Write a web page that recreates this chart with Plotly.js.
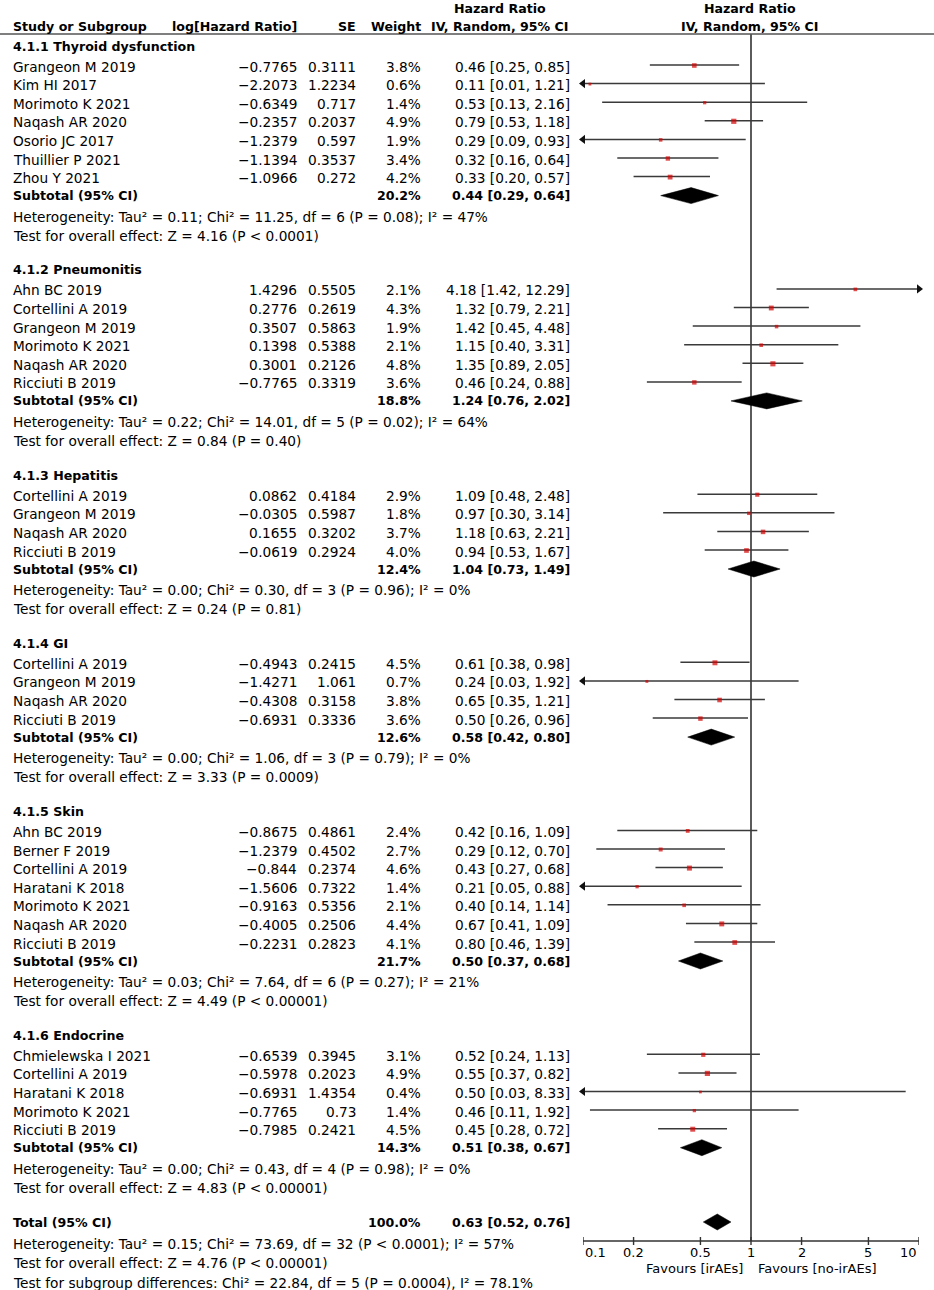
<!DOCTYPE html>
<html>
<head>
<meta charset="utf-8">
<script src="https://cdn.plot.ly/plotly-3.0.1.min.js"></script>
<style>html,body{margin:0;padding:0;background:#fff;}#chart{width:934px;height:1290px;}</style>
</head>
<body>
<div id="chart"></div>
<script>
// ---------- DATA ----------
const groupNames = ["4.1.1 Thyroid dysfunction", "4.1.2 Pneumonitis", "4.1.3 Hepatitis", "4.1.4 GI", "4.1.5 Skin", "4.1.6 Endocrine"];

const studyGroup = [0,0,0,0,0,0,0, 1,1,1,1,1,1, 2,2,2,2, 3,3,3,3, 4,4,4,4,4,4,4, 5,5,5,5,5];
const studyNames = [
  "Grangeon M 2019","Kim HI 2017","Morimoto K 2021","Naqash AR 2020","Osorio JC 2017","Thuillier P 2021","Zhou Y 2021",
  "Ahn BC 2019","Cortellini A 2019","Grangeon M 2019","Morimoto K 2021","Naqash AR 2020","Ricciuti B 2019",
  "Cortellini A 2019","Grangeon M 2019","Naqash AR 2020","Ricciuti B 2019",
  "Cortellini A 2019","Grangeon M 2019","Naqash AR 2020","Ricciuti B 2019",
  "Ahn BC 2019","Berner F 2019","Cortellini A 2019","Haratani K 2018","Morimoto K 2021","Naqash AR 2020","Ricciuti B 2019",
  "Chmielewska I 2021","Cortellini A 2019","Haratani K 2018","Morimoto K 2021","Ricciuti B 2019"
];
const logHR = [
  "−0.7765","−2.2073","−0.6349","−0.2357","−1.2379","−1.1394","−1.0966",
  "1.4296","0.2776","0.3507","0.1398","0.3001","−0.7765",
  "0.0862","−0.0305","0.1655","−0.0619",
  "−0.4943","−1.4271","−0.4308","−0.6931",
  "−0.8675","−1.2379","−0.844","−1.5606","−0.9163","−0.4005","−0.2231",
  "−0.6539","−0.5978","−0.6931","−0.7765","−0.7985"
];
const seVals = [
  "0.3111","1.2234","0.717","0.2037","0.597","0.3537","0.272",
  "0.5505","0.2619","0.5863","0.5388","0.2126","0.3319",
  "0.4184","0.5987","0.3202","0.2924",
  "0.2415","1.061","0.3158","0.3336",
  "0.4861","0.4502","0.2374","0.7322","0.5356","0.2506","0.2823",
  "0.3945","0.2023","1.4354","0.73","0.2421"
];
const weights = [
  3.8,0.6,1.4,4.9,1.9,3.4,4.2,
  2.1,4.3,1.9,2.1,4.8,3.6,
  2.9,1.8,3.7,4.0,
  4.5,0.7,3.8,3.6,
  2.4,2.7,4.6,1.4,2.1,4.4,4.1,
  3.1,4.9,0.4,1.4,4.5
];
const hr = [
  0.46,0.11,0.53,0.79,0.29,0.32,0.33,
  4.18,1.32,1.42,1.15,1.35,0.46,
  1.09,0.97,1.18,0.94,
  0.61,0.24,0.65,0.50,
  0.42,0.29,0.43,0.21,0.40,0.67,0.80,
  0.52,0.55,0.50,0.46,0.45
];
const ciLow = [
  0.25,0.01,0.13,0.53,0.09,0.16,0.20,
  1.42,0.79,0.45,0.40,0.89,0.24,
  0.48,0.30,0.63,0.53,
  0.38,0.03,0.35,0.26,
  0.16,0.12,0.27,0.05,0.14,0.41,0.46,
  0.24,0.37,0.03,0.11,0.28
];
const ciHigh = [
  0.85,1.21,2.16,1.18,0.93,0.64,0.57,
  12.29,2.21,4.48,3.31,2.05,0.88,
  2.48,3.14,2.21,1.67,
  0.98,1.92,1.21,0.96,
  1.09,0.70,0.68,0.88,1.14,1.09,1.39,
  1.13,0.82,8.33,1.92,0.72
];

const subWeight = [20.2, 18.8, 12.4, 12.6, 21.7, 14.3];
const subHR = [0.44, 1.24, 1.04, 0.58, 0.50, 0.51];
const subLow = [0.29, 0.76, 0.73, 0.42, 0.37, 0.38];
const subHigh = [0.64, 2.02, 1.49, 0.80, 0.68, 0.67];
const subHet = [
  "Heterogeneity: Tau² = 0.11; Chi² = 11.25, df = 6 (P = 0.08); I² = 47%",
  "Heterogeneity: Tau² = 0.22; Chi² = 14.01, df = 5 (P = 0.02); I² = 64%",
  "Heterogeneity: Tau² = 0.00; Chi² = 0.30, df = 3 (P = 0.96); I² = 0%",
  "Heterogeneity: Tau² = 0.00; Chi² = 1.06, df = 3 (P = 0.79); I² = 0%",
  "Heterogeneity: Tau² = 0.03; Chi² = 7.64, df = 6 (P = 0.27); I² = 21%",
  "Heterogeneity: Tau² = 0.00; Chi² = 0.43, df = 4 (P = 0.98); I² = 0%"
];
const subTest = [
  "Test for overall effect: Z = 4.16 (P < 0.0001)",
  "Test for overall effect: Z = 0.84 (P = 0.40)",
  "Test for overall effect: Z = 0.24 (P = 0.81)",
  "Test for overall effect: Z = 3.33 (P = 0.0009)",
  "Test for overall effect: Z = 4.49 (P < 0.00001)",
  "Test for overall effect: Z = 4.83 (P < 0.00001)"
];

const totalWeight = 100.0;
const totalHR = 0.63, totalLow = 0.52, totalHigh = 0.76;
const totalLines = [
  "Heterogeneity: Tau² = 0.15; Chi² = 73.69, df = 32 (P < 0.0001); I² = 57%",
  "Test for overall effect: Z = 4.76 (P < 0.00001)",
  "Test for subgroup differences: Chi² = 22.84, df = 5 (P = 0.0004), I² = 78.1%"
];

const tickVals = [0.1, 0.2, 0.5, 1, 2, 5, 10];
const tickText = ["0.1", "0.2", "0.5", "1", "2", "5", "10"];
const favourLeft = "Favours [irAEs]";
const favourRight = "Favours [no-irAEs]";

// ---------- LAYOUT CONSTANTS (pixels) ----------
const W = 934, H = 1290;
const axLeftPx = 583, axRightPx = 919;
const xMin = 0.1, xMax = 10;
const colStudy = 11, colLog = 299, colSE = 358, colW = 423, colHR = 572, colHRhead = 500, colPlotHead = 750;
const gapHeadStudy = 20.5, gapStudy = 18.6, gapSub = 17.5, gapHet = 21, gapTest = 19.3, gapSection = 34;
const FONT = "DejaVu Sans";
const FS = 13.7, FSB = 12.6, FSAX = 13;

function px(x) { return x / W; }
function valToPaper(v) {
  const f = (Math.log10(v) - Math.log10(xMin)) / (Math.log10(xMax) - Math.log10(xMin));
  return px(axLeftPx + f * (axRightPx - axLeftPx));
}
function fmt2(v) { return v.toFixed(2); }
function ciStr(h, l, u) { return fmt2(h) + " [" + fmt2(l) + ", " + fmt2(u) + "]"; }

const ann = [];
function txt(text, xPx, y, anchor, bold, size) {
  ann.push({
    text: bold ? "<b>" + text + "</b>" : text,
    x: px(xPx), xref: "paper", y: y, yref: "y",
    xanchor: anchor, yanchor: "middle", showarrow: false,
    font: { family: FONT, size: size || (bold ? FSB : FS), color: "#000" }
  });
}

// header
const headY1 = 8, headY2 = 26, headLineY = 34;
txt("Study or Subgroup", colStudy, headY2, "left", true);
txt("log[Hazard Ratio]", colLog, headY2, "right", true);
txt("SE", colSE, headY2, "right", true);
txt("Weight", colW, headY2, "right", true);
txt("Hazard Ratio", colHRhead, headY1, "center", true);
txt("IV, Random, 95% CI", colHRhead, headY2, "center", true);
txt("Hazard Ratio", colPlotHead, headY1, "center", true);
txt("IV, Random, 95% CI", colPlotHead, headY2, "center", true);

// rows
let y = 46;
const studyY = new Array(studyNames.length);
const subY = [];
for (let g = 0; g < groupNames.length; g++) {
  txt(groupNames[g], colStudy, y, "left", true);
  y += gapHeadStudy;
  let last = y;
  for (let i = 0; i < studyNames.length; i++) {
    if (studyGroup[i] !== g) continue;
    studyY[i] = y;
    txt(studyNames[i], colStudy, y, "left", false);
    txt(logHR[i], colLog, y, "right", false);
    txt(seVals[i], colSE, y, "right", false);
    txt(weights[i].toFixed(1) + "%", colW, y, "right", false);
    txt(ciStr(hr[i], ciLow[i], ciHigh[i]), colHR, y, "right", false);
    last = y;
    y += gapStudy;
  }
  y = last + gapSub;
  subY[g] = y;
  txt("Subtotal (95% CI)", colStudy, y, "left", true);
  txt(subWeight[g].toFixed(1) + "%", colW, y, "right", true);
  txt(ciStr(subHR[g], subLow[g], subHigh[g]), colHR, y, "right", true);
  y += gapHet;
  txt(subHet[g], colStudy, y, "left", false);
  y += gapTest;
  txt(subTest[g], colStudy, y, "left", false);
  y += gapSection;
}
const totalY = y;
txt("Total (95% CI)", colStudy, totalY, "left", true);
txt(totalWeight.toFixed(1) + "%", colW, totalY, "right", true);
txt(ciStr(totalHR, totalLow, totalHigh), colHR, totalY, "right", true);
let ty = totalY + 21.5;
for (let k = 0; k < totalLines.length; k++) {
  txt(totalLines[k], colStudy, ty, "left", false);
  ty += 19.5;
}

// axis
const axisY = totalY + 19;
const tickLabelY = axisY + 11.5;
const favY = axisY + 27;
for (let k = 0; k < tickVals.length; k++) {
  const anchor = k === 0 ? "left" : (k === tickVals.length - 1 ? "right" : "center");
  ann.push({
    text: tickText[k], x: valToPaper(tickVals[k]), xref: "paper", y: tickLabelY, yref: "y",
    xanchor: anchor, yanchor: "middle", showarrow: false,
    font: { family: FONT, size: FSAX, color: "#000" }
  });
}
ann.push({ text: favourLeft, x: px(745), xref: "paper", y: favY, yref: "y", xanchor: "right", yanchor: "middle", showarrow: false, font: { family: FONT, size: FSAX, color: "#000" } });
ann.push({ text: favourRight, x: px(756), xref: "paper", y: favY, yref: "y", xanchor: "left", yanchor: "middle", showarrow: false, font: { family: FONT, size: FSAX, color: "#000" } });

// ---------- TRACES ----------
const traces = [];
const lineColor = "#333";
// null line at 1
traces.push({ x: [1, 1], y: [headLineY, axisY], mode: "lines", line: { color: lineColor, width: 1.6 }, cliponaxis: false });
// axis line
traces.push({ x: [xMin, xMax], y: [axisY, axisY], mode: "lines", line: { color: lineColor, width: 1.6 }, cliponaxis: false });
// ticks
const tx = [], tyy = [];
tickVals.forEach(v => { tx.push(v, v, null); tyy.push(axisY - 4, axisY + 4, null); });
traces.push({ x: tx, y: tyy, mode: "lines", line: { color: lineColor, width: 1.4 }, cliponaxis: false });

// CI lines
const cx = [], cy = [], arL = [], arLy = [], arR = [], arRy = [];
for (let i = 0; i < studyNames.length; i++) {
  const yy = studyY[i] - 1.5;
  const lo = Math.max(ciLow[i], xMin), hi = Math.min(ciHigh[i], xMax);
  cx.push(lo, hi, null); cy.push(yy, yy, null);
  if (ciLow[i] < xMin) { arL.push(xMin); arLy.push(yy); }
  if (ciHigh[i] > xMax) { arR.push(xMax); arRy.push(yy); }
}
traces.push({ x: cx, y: cy, mode: "lines", line: { color: "#3a3a3a", width: 1.5 }, cliponaxis: false });
traces.push({ x: arL, y: arLy, mode: "markers", marker: { symbol: "triangle-left", size: 8, color: "#111" }, cliponaxis: false });
traces.push({ x: arR, y: arRy, mode: "markers", marker: { symbol: "triangle-right", size: 8, color: "#111" }, cliponaxis: false });

// point estimates
traces.push({
  x: hr, y: studyY.map(v => v - 1), mode: "markers", cliponaxis: false,
  marker: { symbol: "square", color: "#d40000", size: weights.map(w => 2.5 + 0.55 * w), line: { width: 0 } }
});

// diamonds
const dx = [], dy = [];
function diamond(h, l, u, yc) {
  dx.push(l, h, u, h, l, null);
  dy.push(yc, yc - 8, yc, yc + 8, yc, null);
}
for (let g = 0; g < groupNames.length; g++) diamond(subHR[g], subLow[g], subHigh[g], subY[g]);
diamond(totalHR, totalLow, totalHigh, totalY);
traces.push({ x: dx, y: dy, mode: "lines", fill: "toself", fillcolor: "#000", line: { color: "#000", width: 0.5 }, cliponaxis: false });

const layout = {
  width: W, height: H,
  margin: { l: 0, r: 0, t: 0, b: 0, pad: 0 },
  paper_bgcolor: "#fff", plot_bgcolor: "rgba(0,0,0,0)",
  showlegend: false, hovermode: false,
  font: { family: FONT, size: FS, color: "#000" },
  xaxis: { type: "log", domain: [px(axLeftPx), px(axRightPx)], range: [Math.log10(xMin), Math.log10(xMax)], visible: false, fixedrange: true },
  yaxis: { range: [H, 0], domain: [0, 1], visible: false, fixedrange: true },
  shapes: [{ type: "line", xref: "paper", yref: "y", x0: 0, x1: 1, y0: headLineY, y1: headLineY, line: { color: "#555", width: 1.6 } }],
  annotations: ann
};

Plotly.newPlot("chart", traces, layout, { staticPlot: true, displayModeBar: false });
</script>
</body>
</html>
